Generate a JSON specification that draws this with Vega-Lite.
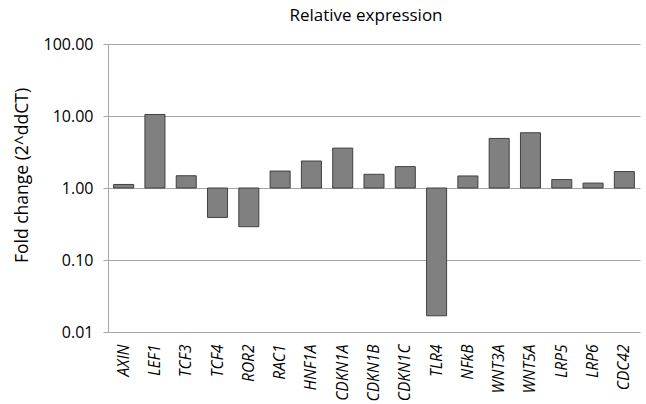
{
  "$schema": "https://vega.github.io/schema/vega-lite/v6.json",
  "autosize": "none",
  "width": 532,
  "height": 288,
  "padding": {"left": 108, "top": 44, "right": 6, "bottom": 72},
  "background": "white",
  "title": {"text": "Relative expression", "fontSize": 17, "fontWeight": "normal", "font": "Open Sans", "color": "#000000", "offset": 11, "anchor": "middle", "dx": -8},
  "config": {"view": {"stroke": null}, "font": "Open Sans"},
  "data": {"values": [
    {"gene": "AXIN", "fc": 1.12},
    {"gene": "LEF1", "fc": 10.5},
    {"gene": "TCF3", "fc": 1.48},
    {"gene": "TCF4", "fc": 0.39},
    {"gene": "ROR2", "fc": 0.29},
    {"gene": "RAC1", "fc": 1.72},
    {"gene": "HNF1A", "fc": 2.37},
    {"gene": "CDKN1A", "fc": 3.58},
    {"gene": "CDKN1B", "fc": 1.55},
    {"gene": "CDKN1C", "fc": 1.98},
    {"gene": "TLR4", "fc": 0.0168},
    {"gene": "NFkB", "fc": 1.47},
    {"gene": "WNT3A", "fc": 4.88},
    {"gene": "WNT5A", "fc": 5.85},
    {"gene": "LRP5", "fc": 1.31},
    {"gene": "LRP6", "fc": 1.17},
    {"gene": "CDC42", "fc": 1.69}
  ]},
  "mark": {"type": "bar", "fill": "#808080", "stroke": "#404040", "strokeWidth": 1},
  "encoding": {
    "x": {
      "field": "gene", "type": "nominal", "sort": null,
      "scale": {"paddingInner": 0.36, "paddingOuter": 0.18},
      "axis": {"title": null, "labelAngle": -90, "labelFontStyle": "italic", "labelFontSize": 15.5, "labelColor": "#000000", "labelFont": "Open Sans", "domain": false, "ticks": false, "labelPadding": 12}
    },
    "y": {
      "field": "fc", "type": "quantitative",
      "scale": {"type": "log", "domain": [0.01, 100], "nice": false},
      "axis": {"title": "Fold change (2^ddCT)", "titleFontSize": 17.5, "titleFontWeight": "normal", "titleColor": "#000000", "titlePadding": 12, "titleFont": "Open Sans", "titleY": 131,
        "values": [0.01, 0.1, 1, 10, 100], "format": ".2f", "labelFontSize": 16, "labelColor": "#000000", "labelFont": "Open Sans", "labelPadding": 10,
        "grid": true, "gridColor": "#a6a6a6", "gridWidth": 1, "domainColor": "#a6a6a6", "tickColor": "#a6a6a6", "tickSize": 5}
    },
    "y2": {"datum": 1}
  }
}
